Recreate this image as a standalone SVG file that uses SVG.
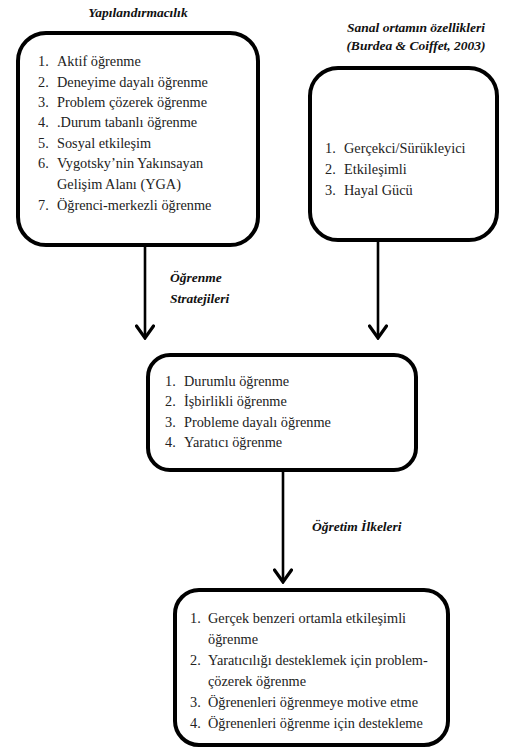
<svg xmlns="http://www.w3.org/2000/svg" width="514" height="753" viewBox="0 0 514 753">
  <defs>
    <marker id="arrowhead" viewBox="0 0 16 20" refX="14" refY="10" markerWidth="16" markerHeight="20" markerUnits="userSpaceOnUse" orient="auto">
      <path d="M2,1.5 L14,10 L2,18.5" fill="none" stroke="#000" stroke-width="3.2" stroke-linecap="round" stroke-linejoin="miter"/>
    </marker>
    <style>
      .box { fill: #fff; stroke: #000; stroke-width: 4; }
      .item { font-size: 14.3px; fill: #222; }
      .head { font-size: 13.5px; font-weight: bold; font-style: italic; fill: #111; }
      .conn { stroke: #000; stroke-width: 2.6; fill: none; }
    </style>
  </defs>
  <rect width="514" height="753" fill="#fff"/>

  <g font-family="Liberation Serif, Times New Roman, serif">
  <!-- headings above the top boxes -->
  <text class="head" x="138" y="17" text-anchor="middle">Yapılandırmacılık</text>
  <text class="head" x="416" y="32" text-anchor="middle" font-size="15.5">Sanal ortamın özellikleri</text>
  <text class="head" x="416" y="50" text-anchor="middle" font-size="15.5">(Burdea &amp; Coiffet, 2003)</text>

  <!-- connectors -->
  <g id="connectors">
    <line class="conn" x1="145" y1="246" x2="145" y2="338" marker-end="url(#arrowhead)"/>
    <line class="conn" x1="378" y1="241" x2="378" y2="338" marker-end="url(#arrowhead)"/>
    <line class="conn" x1="283" y1="471" x2="283" y2="582" marker-end="url(#arrowhead)"/>
    <text class="head" x="170" y="282">Öğrenme</text>
    <text class="head" x="170" y="303">Stratejileri</text>
    <text class="head" x="312" y="531" font-size="14.5">Öğretim İlkeleri</text>
  </g>

  <!-- constructivism -->
  <g id="yapilandirmacilik">
    <rect class="box" x="18" y="33" width="240" height="212" rx="28"/>
    <g class="item">
      <text x="38" y="66">1.</text><text x="57" y="66">Aktif öğrenme</text>
      <text x="38" y="87">2.</text><text x="57" y="87">Deneyime dayalı öğrenme</text>
      <text x="38" y="107">3.</text><text x="57" y="107">Problem çözerek öğrenme</text>
      <text x="38" y="127">4.</text><text x="57" y="127">.Durum tabanlı öğrenme</text>
      <text x="38" y="148">5.</text><text x="57" y="148">Sosyal etkileşim</text>
      <text x="38" y="168">6.</text><text x="57" y="168">Vygotsky’nin Yakınsayan</text>
      <text x="57" y="189">Gelişim Alanı (YGA)</text>
      <text x="38" y="210">7.</text><text x="57" y="210">Öğrenci-merkezli öğrenme</text>
    </g>
  </g>

  <!-- virtual environment features -->
  <g id="sanal-ortam">
    <rect class="box" x="310" y="68" width="187" height="172" rx="28"/>
    <g class="item">
      <text x="325" y="153">1.</text><text x="344" y="153">Gerçekci/Sürükleyici</text>
      <text x="325" y="174">2.</text><text x="344" y="174">Etkileşimli</text>
      <text x="325" y="195">3.</text><text x="344" y="195">Hayal Gücü</text>
    </g>
  </g>

  <!-- learning strategies -->
  <g id="ogrenme-stratejileri">
    <rect class="box" x="148" y="355" width="268" height="115" rx="22"/>
    <g class="item">
      <text x="165" y="386">1.</text><text x="184" y="386">Durumlu öğrenme</text>
      <text x="165" y="406">2.</text><text x="184" y="406">İşbirlikli  öğrenme</text>
      <text x="165" y="427">3.</text><text x="184" y="427">Probleme dayalı öğrenme</text>
      <text x="165" y="447">4.</text><text x="184" y="447">Yaratıcı öğrenme</text>
    </g>
  </g>

  <!-- instructional principles -->
  <g id="ogretim-ilkeleri">
    <rect class="box" x="175" y="590" width="273" height="155" rx="24"/>
    <g class="item">
      <text x="190" y="623">1.</text><text x="208" y="623">Gerçek benzeri ortamla etkileşimli</text>
      <text x="208" y="644">öğrenme</text>
      <text x="190" y="665">2.</text><text x="208" y="665">Yaratıcılığı desteklemek için problem-</text>
      <text x="208" y="686">çözerek öğrenme</text>
      <text x="190" y="707">3.</text><text x="208" y="707">Öğrenenleri öğrenmeye motive etme</text>
      <text x="190" y="728">4.</text><text x="208" y="728">Öğrenenleri öğrenme için destekleme</text>
    </g>
  </g>
  </g>
</svg>
